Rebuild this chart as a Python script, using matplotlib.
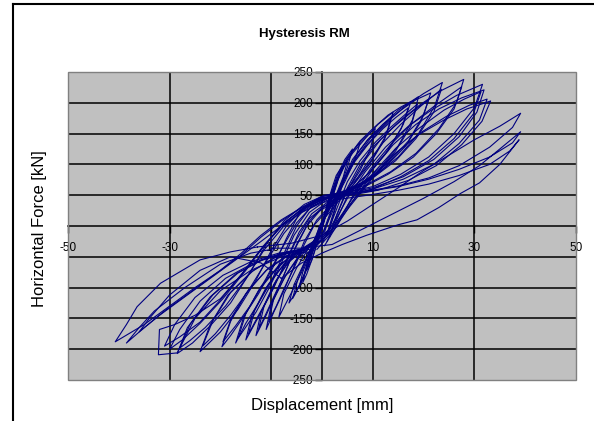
import matplotlib
matplotlib.use('Agg')
import matplotlib.pyplot as plt
from matplotlib.lines import Line2D
from matplotlib.patches import Rectangle

plt.rcParams['font.family'] = ['Liberation Sans', 'DejaVu Sans']
plt.rcParams['axes.unicode_minus'] = False

# Displacement [mm] / force [kN] for each load cycle
s01_x = [0, 1, 2, 2.8, 3.8, 3, 1.8, 0.5, -0.8, -2, -3, -3.8, -3, -1.8, -0.5]
s01_y = [0, 35, 62, 82, 95, 70, 40, 12, -25, -55, -78, -92, -62, -30, -5]

s02_x = [0, 1.5, 3, 4.5, 6, 5, 3.5, 1.5, -0.5, -2, -3.5, -5, -5.8, -4.8, -3, -1]
s02_y = [-5, 45, 82, 108, 125, 95, 62, 30, 0, -40, -78, -106, -118, -88, -50, -18]

c01_x = [0, 1, 2, 3, 2.2, 1, 0, -1, -2, -3, -2.2, -1, 0]
c01_y = [0, 32, 58, 75, 50, 22, 2, -28, -55, -72, -48, -20, 0]

c02_x = [0, 1.5, 3, 4, 5, 4.2, 3, 1.5, 0, -1.5, -3, -4.5, -3.8, -2.5, -1, 0]
c02_y = [0, 42, 75, 95, 105, 80, 55, 28, 5, -35, -70, -100, -75, -48, -20, 0]

c03_x = [0, 1.5, 3, 4.5, 6, 7.5, 6.5, 4.5, 2.5, 0.5, -1, -2.5, -4, -5.5, -6.5, -5.5, -3.5, -1.5, 0]
c03_y = [0, 40, 78, 105, 122, 135, 108, 72, 42, 12, -22, -58, -90, -112, -125, -95, -60, -28, 0]

c04_x = [0, 1.5, 3, 5, 7, 9, 10.5, 9.5, 7.5, 5, 2.5, 0, -2, -4, -6, -7.5, -8.5, -7.5, -5, -2.5, 0]
c04_y = [0, 35, 72, 108, 132, 148, 158, 125, 90, 58, 32, 8, -32, -75, -108, -132, -148, -110, -68, -34, -5]

c05_x = [-1, 0.5, 2, 4, 6, 8.5, 11, 14, 12.8, 10, 7, 4, 1.5, -1, -3.5, -5.5, -7.5, -9.5, -11, -10, -7.5, -5, -2.5, 0]
c05_y = [-20, 20, 55, 92, 118, 142, 165, 185, 150, 110, 78, 52, 32, 10, -25, -65, -105, -140, -168, -128, -85, -55, -35, -10]

r05_x = [0, 2, 4, 6, 8.5, 11, 13.5, 12.3, 9.5, 6.5, 3.5, 1, -1.5, -3.5, -5.5, -7.5, -9, -10.5, -9.5, -7, -4.5, -2, 0]
r05_y = [-15, 30, 72, 102, 128, 152, 172, 140, 102, 70, 45, 25, 2, -30, -68, -102, -130, -155, -118, -78, -48, -30, -15]

c06_x = [0, 1.5, 3, 5, 7.5, 10, 13, 15.5, 17.5, 16, 13, 9.5, 6, 3, 0, -2.5, -5, -7, -9, -11, -13, -12, -9.5, -7, -4, -1, 1.5]
c06_y = [-5, 38, 75, 110, 138, 158, 180, 193, 202, 165, 122, 88, 62, 45, 30, 8, -30, -70, -108, -145, -178, -140, -95, -62, -40, -22, -5]

r06_x = [0.5, 2, 4, 6.5, 9, 12, 14.5, 17, 15.6, 12.5, 9, 5.5, 2.5, -0.5, -3, -5.5, -7.5, -9.5, -11, -12.5, -11.4, -9, -6.5, -3.5, -0.5]
r06_y = [-10, 28, 70, 105, 132, 158, 176, 192, 158, 118, 84, 58, 40, 24, 0, -40, -80, -115, -142, -168, -130, -88, -58, -38, -18]

c07_x = [1.5, 3, 4.5, 6.5, 9, 12, 15, 17.5, 19, 17.8, 15, 11.5, 8, 4.5, 1, -2, -4.5, -7, -9.5, -12, -15, -13.8, -11, -8, -5, -2, 1]
c07_y = [-5, 40, 78, 112, 140, 165, 188, 202, 210, 172, 130, 95, 70, 52, 38, 20, -10, -55, -100, -140, -185, -145, -100, -68, -45, -30, -12]

r07_x = [1, 3, 5, 7.5, 10.5, 13.5, 16.5, 18.8, 17.5, 14.5, 11, 7.5, 4, 0.5, -2.5, -5, -7.5, -10, -12.5, -14.5, -13.3, -10.5, -7.5, -4.5, -1.5]
r07_y = [-12, 30, 72, 106, 136, 160, 182, 198, 162, 122, 88, 64, 46, 32, 12, -22, -65, -108, -145, -176, -138, -94, -62, -40, -24]

c08_x = [1, 2.5, 4, 6, 9, 12, 15.5, 18.5, 21.4, 20, 17, 13, 9, 5, 1, -2.5, -5, -7.5, -10, -12.5, -15, -17, -15.5, -12.5, -9, -6, -3, 0]
c08_y = [-12, 28, 70, 108, 140, 165, 188, 205, 216, 180, 138, 102, 76, 58, 45, 28, 0, -45, -90, -125, -158, -190, -150, -105, -70, -48, -35, -15]

r08_x = [1.5, 3, 5, 7.5, 10.5, 14, 17.5, 21, 19.5, 16.5, 12.5, 8.5, 4.5, 0.5, -2.5, -5.5, -8, -10.5, -13, -16.5, -15, -12, -8.5, -5, -2]
r08_y = [-18, 20, 62, 100, 132, 160, 184, 205, 170, 130, 96, 70, 52, 40, 22, -15, -60, -102, -140, -182, -142, -98, -64, -42, -28]

c09_x = [0, 2, 4, 6.5, 9.5, 13, 16.5, 20, 23.7, 22.2, 19, 15, 10.5, 6, 2, -1.5, -4.5, -7, -9.5, -12.5, -15.5, -18, -19.7, -18, -15, -11, -7, -3.5, 0]
c09_y = [-15, 22, 68, 108, 142, 170, 195, 215, 233, 195, 150, 112, 82, 62, 50, 40, 20, -20, -65, -110, -148, -178, -196, -155, -110, -72, -50, -38, -22]

r09_x = [1, 3, 5.5, 8.5, 12, 15.5, 19.5, 23.5, 22, 18.5, 14.5, 10, 5.5, 1.5, -2, -5, -8, -11, -14, -17, -19.5, -17.8, -14.5, -10.5, -6.5, -3]
r09_y = [-25, 12, 58, 98, 135, 165, 195, 222, 185, 142, 106, 78, 58, 46, 32, 5, -38, -85, -128, -162, -188, -148, -104, -68, -46, -34]

c10_x = [0, 2.5, 5, 8, 11.5, 15.5, 19.5, 23.5, 27.9, 26.5, 23, 18.5, 13.5, 8.5, 4, 0, -3.5, -7, -10, -13, -16.5, -20, -24, -22, -18.5, -14, -9.5, -5, -1.5]
c10_y = [-28, 10, 58, 102, 140, 172, 198, 220, 238, 200, 158, 118, 88, 66, 55, 48, 30, 0, -40, -88, -135, -172, -204, -160, -112, -75, -52, -40, -32]

r10_x = [0.5, 3, 6, 9.5, 13.5, 17.5, 22, 27.5, 26, 22.5, 18, 13, 8, 3.5, -0.5, -4, -7.5, -11, -14.5, -18, -21, -23.5, -21.5, -18, -13.5, -9, -4.5]
r10_y = [-32, 2, 48, 92, 132, 165, 194, 226, 190, 150, 112, 84, 62, 50, 42, 22, -12, -58, -105, -145, -175, -195, -154, -108, -72, -50, -38]

c11_x = [-1.5, 2, 5, 8.5, 12.5, 17, 21.5, 26.5, 31.6, 30, 26, 21, 15.5, 10, 5, 0.5, -3.5, -7.5, -11, -14.5, -18, -22, -25.5, -28.5, -26.5, -22, -17, -12, -7, -3]
c11_y = [-35, 0, 45, 88, 128, 162, 188, 212, 230, 192, 150, 112, 84, 64, 55, 50, 35, 8, -30, -80, -125, -162, -190, -207, -165, -115, -78, -55, -42, -36]

r11_x = [-1, 2.5, 6, 10, 14.5, 19, 24, 28, 31.3, 29.8, 26, 21, 15.5, 10, 5, 0.5, -3.5, -7.5, -11.5, -15, -19, -23, -26, -28, -26, -21.5, -16.5, -11.5, -6.5, -2.5]
r11_y = [-38, -5, 40, 85, 126, 158, 188, 206, 218, 182, 142, 106, 80, 60, 50, 44, 28, 0, -40, -86, -130, -165, -186, -198, -160, -112, -76, -54, -42, -38]

c12_x = [-2, 2, 6, 10, 14, 18.5, 23, 27.5, 31.9, 30.5, 27, 22, 16, 10, 4.5, 0, -4, -8, -12, -16, -20, -25, -29, -32, -32.2, -28.5, -25, -20, -14, -8, -3]
c12_y = [-40, -5, 45, 92, 132, 165, 190, 208, 221, 185, 145, 108, 80, 62, 52, 45, 28, 0, -38, -80, -118, -145, -160, -168, -209, -206, -150, -105, -72, -50, -42]

r12_x = [-2.5, 1.5, 5.5, 10, 14.5, 19.5, 24.5, 29, 32.5, 31, 27, 22, 16, 10, 5, 0.5, -3.5, -7.5, -11.5, -15.5, -20, -24, -28, -31, -29, -25, -19.5, -14, -8.5, -3.5]
r12_y = [-42, -12, 32, 78, 118, 152, 178, 196, 206, 172, 134, 100, 76, 60, 50, 44, 30, 5, -32, -75, -120, -156, -180, -195, -160, -116, -80, -58, -44, -40]

c13_x = [-3, 1, 5, 9.5, 14, 19, 24, 28.5, 33.2, 31.5, 27.5, 22.5, 17, 11, 5.5, 1, -3, -7, -11, -15, -19.5, -24, -27.5, -30, -28, -24, -19, -13.5, -8, -3.5]
c13_y = [-45, -15, 30, 75, 115, 148, 172, 190, 203, 170, 132, 98, 74, 58, 50, 46, 32, 8, -28, -72, -118, -158, -185, -200, -168, -122, -85, -60, -46, -40]

c14_x = [-12.7, -6, 0, 5, 10, 15, 20, 25, 30, 35, 39.1, 37.5, 33, 27, 21, 15, 9, 4, 0, -4, -8, -12, -16, -20, -25, -30, -35, -40.7, -38.5, -36.4, -31.8, -24, -18, -12.7]
c14_y = [-34, -28, -15, 8, 35, 62, 90, 115, 140, 162, 183, 160, 128, 98, 78, 65, 57, 52, 48, 30, 10, -15, -45, -72, -100, -130, -160, -188, -160, -131, -93, -55, -42, -34]

c15_x = [-10, -4, 2, 8, 14, 20, 26, 31, 35, 39.1, 37.5, 33, 27, 21, 15, 9, 4, 0, -4, -8, -12, -16, -21, -26, -31, -35, -38.5, -36, -33, -27, -20, -14, -10]
c15_y = [-36, -36, -30, -5, 20, 45, 72, 98, 125, 153, 135, 112, 92, 76, 64, 56, 50, 46, 30, 8, -18, -48, -78, -108, -138, -165, -190, -165, -138, -100, -62, -44, -38]

c16_x = [-8, -4, 0, 4, 8.8, 15, 18.7, 23, 27.3, 31, 35, 38.8, 37, 33, 27, 21, 15, 9, 4, 0, -4, -8, -12, -17, -22, -27, -32, -36, -34, -30, -24, -18, -12, -8]
c16_y = [-85, -60, -44, -30, -15, 2, 10, 30, 53, 70, 100, 140, 122, 100, 82, 68, 58, 50, 44, 38, 22, 0, -25, -55, -85, -115, -145, -172, -150, -112, -72, -50, -60, -85]

cycles = [
    (s01_x, s01_y), (s02_x, s02_y),
    (c01_x, c01_y), (c02_x, c02_y), (c03_x, c03_y), (c04_x, c04_y),
    (c05_x, c05_y), (r05_x, r05_y), (c06_x, c06_y), (r06_x, r06_y),
    (c07_x, c07_y), (r07_x, r07_y), (c08_x, c08_y), (r08_x, r08_y),
    (c09_x, c09_y), (r09_x, r09_y), (c10_x, c10_y), (r10_x, r10_y),
    (c11_x, c11_y), (r11_x, r11_y), (c12_x, c12_y), (r12_x, r12_y),
    (c13_x, c13_y), (c14_x, c14_y), (c15_x, c15_y), (c16_x, c16_y),
]

x_ticks = [-50, -30, -10, 10, 30, 50]
y_ticks = [-250, -200, -150, -100, -50, 0, 50, 100, 150, 200, 250]

fig = plt.figure(figsize=(5.94, 4.21), dpi=100)
fig.patch.set_facecolor('white')
ax = fig.add_axes([68 / 594, 41 / 421, 508 / 594, 308 / 421])
ax.set_facecolor('#c0c0c0')

for cx, cy in cycles:
    ax.plot(cx, cy, color='#000080', lw=0.8, zorder=3)

ax.set_xlim(-50, 50)
ax.set_ylim(-250, 250)
ax.set_xticks(x_ticks)
ax.set_yticks(y_ticks)

# Excel-style gridlines
for gx in [-30, -10, 10, 30]:
    ax.axvline(gx, color='black', lw=1.1, zorder=1)
for gy in [-200, -150, -100, -50, 50, 100, 150, 200]:
    ax.axhline(gy, color='black', lw=1.1, zorder=1)

# axes cross at zero
ax.spines['left'].set_position(('data', 0))
ax.spines['bottom'].set_position(('data', 0))
ax.spines['top'].set_visible(False)
ax.spines['right'].set_visible(False)
for s in ['left', 'bottom']:
    ax.spines[s].set_color('black')
    ax.spines[s].set_linewidth(1.1)
    ax.spines[s].set_zorder(2)
ax.add_patch(Rectangle((0, 0), 1, 1, transform=ax.transAxes, fill=False,
                       edgecolor='#808080', lw=1.0, zorder=4, clip_on=False))

ax.tick_params(axis='both', direction='out', length=5, width=1, color='black',
               labelsize=8.5, labelcolor='black')
ax.tick_params(axis='x', pad=6.5)
ax.tick_params(axis='y', pad=1.5)

fig.text(0.512, 0.919, 'Hysteresis RM', ha='center', va='center',
         fontsize=9.5, fontweight='bold')
fig.text(0.067, 0.458, 'Horizontal Force [kN]', ha='center', va='center',
         rotation=90, fontsize=12)
fig.text(0.542, 0.036, 'Displacement [mm]', ha='center', va='center',
         fontsize=12)

# outer frame (left and top only visible)
fig.add_artist(Line2D([12.5 / 594, 12.5 / 594], [0, 1 - 3.5 / 421],
                      color='black', lw=1.5))
fig.add_artist(Line2D([12.5 / 594, 1], [1 - 3.5 / 421, 1 - 3.5 / 421],
                      color='black', lw=1.5))

fig.savefig('out.png', dpi=100)
